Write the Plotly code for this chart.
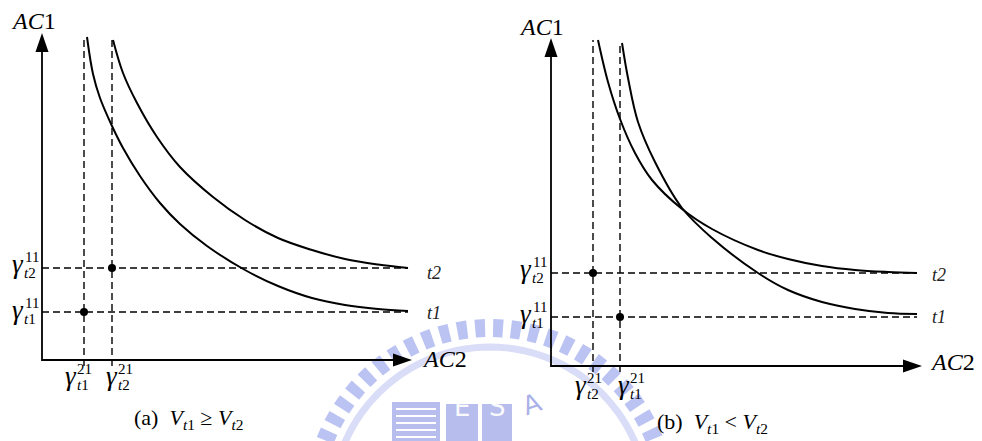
import math
import plotly.graph_objects as go

FIG_W, FIG_H = 982, 441
SERIF = "Liberation Serif, Times New Roman, serif"
INK = "#000000"

# ---------------- panel (a): V_t1 >= V_t2 ----------------
a_gamma21 = {"t1": 42, "t2": 70}      # thresholds on AC2
a_gamma11 = {"t1": 48, "t2": 92}      # thresholds on AC1
a_t1_x = [45, 51, 58, 70, 81, 98, 118, 138, 165, 203, 236, 270, 303, 336, 366]
a_t1_y = [323, 286, 262, 234, 212, 184, 157, 136, 114, 90, 74, 62, 55, 51, 49]
a_t2_x = [71, 81, 95, 115, 138, 171, 203, 236, 270, 303, 336, 366]
a_t2_y = [320, 287, 257, 223, 193, 163, 140, 122, 110, 101, 95.5, 92]

# ---------------- panel (b): V_t1 < V_t2 ----------------
b_gamma21 = {"t1": 69, "t2": 42}
b_gamma11 = {"t1": 49, "t2": 93}
b_t1_x = [71, 77, 87, 104, 131, 161, 207, 237, 271, 304, 337, 366]
b_t1_y = [323, 288, 244, 204, 158, 128, 93, 76, 64, 57, 53, 52]
b_t2_x = [47, 57, 69, 84, 101, 131, 161, 207, 237, 271, 304, 337, 366]
b_t2_y = [326, 284, 247, 213, 186, 157, 137, 116, 107, 100, 96, 94, 93]

panels = {
    "a": dict(xa="x", ya="y", g21=a_gamma21, g11=a_gamma11,
              curves=[(a_t1_x, a_t1_y), (a_t2_x, a_t2_y)],
              vtop={"t1": 323, "t2": 322}, hend=366, xtip=370, ytip=327,
              xr=[-42, 449], yr=[-81, 360], dom=[0, 0.5]),
    "b": dict(xa="x2", ya="y2", g21=b_gamma21, g11=b_gamma11,
              curves=[(b_t1_x, b_t1_y), (b_t2_x, b_t2_y)],
              vtop={"t1": 324, "t2": 326}, hend=366, xtip=371, ytip=328,
              xr=[-60, 431], yr=[-75, 366], dom=[0.5, 1]),
}

HEAD_LEN, HEAD_HW = 19, 6.5
DASH = dict(color=INK, width=1.4, dash="7px,4px")

fig = go.Figure()

for key, p in panels.items():
    ax = dict(xaxis=p["xa"], yaxis=p["ya"], showlegend=False, hoverinfo="skip")
    # dashed guide lines
    for t in ("t1", "t2"):
        g = p["g21"][t]
        fig.add_trace(go.Scatter(x=[g, g], y=[-6, p["vtop"][t]], mode="lines",
                                 line=DASH, **ax))
        h = p["g11"][t]
        fig.add_trace(go.Scatter(x=[0, p["hend"]], y=[h, h], mode="lines",
                                 line=DASH, **ax))
    # indifference curves
    for cx, cy in p["curves"]:
        fig.add_trace(go.Scatter(x=cx, y=cy, mode="lines", line_shape="spline",
                                 line=dict(color=INK, width=2), **ax))
    # threshold points
    fig.add_trace(go.Scatter(x=[p["g21"]["t1"], p["g21"]["t2"]],
                             y=[p["g11"]["t1"], p["g11"]["t2"]],
                             mode="markers", marker=dict(color=INK, size=8), **ax))
    # axes with arrowheads
    xb, yb = p["xtip"] - HEAD_LEN, p["ytip"] - HEAD_LEN
    fig.add_trace(go.Scatter(x=[xb, 0, 0], y=[0, 0, yb], mode="lines",
                             line=dict(color=INK, width=1.8), **ax))
    fig.add_trace(go.Scatter(x=[p["xtip"], xb, xb, p["xtip"]],
                             y=[0, HEAD_HW, -HEAD_HW, 0], mode="lines",
                             fill="toself", fillcolor=INK, line=dict(width=0), **ax))
    fig.add_trace(go.Scatter(x=[0, HEAD_HW, -HEAD_HW, 0],
                             y=[p["ytip"], yb, yb, p["ytip"]], mode="lines",
                             fill="toself", fillcolor=INK, line=dict(width=0), **ax))

annotations = []


def text(panel, x, y, s, size, xanchor="center", yanchor="middle",
         xshift=0, yshift=0, color=INK, family=SERIF):
    p = panels[panel]
    annotations.append(dict(xref=p["xa"], yref=p["ya"], x=x, y=y, text=s,
                            showarrow=False, xanchor=xanchor, yanchor=yanchor,
                            xshift=xshift, yshift=yshift,
                            font=dict(family=family, size=size, color=color)))


def gamma(panel, x, y, sup, t):
    """gamma with stacked superscript and subscript; (x, y) is the glyph centre"""
    text(panel, x, y, "<i>γ</i>", 27, yshift=6)
    text(panel, x, y, sup, 15, xshift=14, yshift=13)
    text(panel, x, y, "<i>t</i>" + t[-1], 15, xshift=12, yshift=-3)


for key in ("a", "b"):
    text(key, -9 if key == "a" else -10, 339, "<i>AC</i>1", 24)
    text(key, 378 if key == "a" else 377, 1 if key == "a" else 4.5,
         "<i>AC</i>2", 24, xanchor="left")

# panel (a) labels
gamma("a", -24.5, 90, "11", "t2")
gamma("a", -24.5, 44, "11", "t1")
gamma("a", 28.5, -22, "21", "t1")
gamma("a", 69.5, -22, "21", "t2")
text("a", 383, 87, "<i>t2</i>", 18, xanchor="left", color="#222")
text("a", 383, 47, "<i>t1</i>", 18, xanchor="left", color="#222")
text("a", 146, -59,
     "(a)\u00a0 <i>V</i><sub><i>t</i>1</sub> ≥ <i>V</i><sub><i>t</i>2</sub>", 22)

# panel (b) labels
gamma("b", -25.5, 91, "11", "t2")
gamma("b", -25.5, 46, "11", "t1")
gamma("b", 29.5, -25, "21", "t2")
gamma("b", 72.5, -25, "21", "t1")
text("b", 379, 91, "<i>t2</i>", 18, xanchor="left", color="#222")
text("b", 379, 49, "<i>t1</i>", 18, xanchor="left", color="#222")
text("b", 161, -57,
     "(b)\u00a0 <i>V</i><sub><i>t</i>1</sub> < <i>V</i><sub><i>t</i>2</sub>", 22)

# faint emblem behind the figures
shapes = []
EMB_CX, EMB_CY = 490, 505
TOOTH_IN, TOOTH_OUT = 168, 186


def to_paper(px, py):
    return px / FIG_W, 1 - py / FIG_H


for k in range(28):
    th = math.radians(12 + k * 5.8)
    hw = math.radians(1.6)
    pts = []
    for r, a in ((TOOTH_IN, th - hw), (TOOTH_OUT, th - hw),
                 (TOOTH_OUT, th + hw), (TOOTH_IN, th + hw)):
        pts.append(to_paper(EMB_CX + r * math.cos(a), EMB_CY - r * math.sin(a)))
    path = "M " + " L ".join(f"{u:.4f},{v:.4f}" for u, v in pts) + " Z"
    shapes.append(dict(type="path", path=path, xref="paper", yref="paper",
                       fillcolor="rgba(120,135,230,0.5)", line_width=0,
                       layer="below"))

ring = []
for k in range(61):
    a = math.radians(k * 3)
    ring.append(to_paper(EMB_CX + 158 * math.cos(a), EMB_CY - 158 * math.sin(a)))
shapes.append(dict(type="path", xref="paper", yref="paper", layer="below",
                   path="M " + " L ".join(f"{u:.4f},{v:.4f}" for u, v in ring),
                   line=dict(color="rgba(160,170,235,0.4)", width=7)))

for (x0, y0, x1, y1) in [(392, 402, 440, 441), (446, 404, 478, 441),
                         (482, 404, 512, 441)]:
    u0, v0 = to_paper(x0, y0)
    u1, v1 = to_paper(x1, y1)
    shapes.append(dict(type="rect", xref="paper", yref="paper", x0=u0, x1=u1,
                       y0=v1, y1=v0, layer="below", line_width=0,
                       fillcolor="rgba(95,110,215,0.45)"))
for i in range(5):
    u0, v0 = to_paper(396, 408 + i * 7)
    u1, v1 = to_paper(436, 410 + i * 7)
    shapes.append(dict(type="rect", xref="paper", yref="paper", x0=u0, x1=u1,
                       y0=v1, y1=v0, layer="below", line_width=0,
                       fillcolor="white"))
for lbl, px in (("E", 462), ("S", 497), ("A", 532)):
    u, v = to_paper(px, 424)
    annotations.append(dict(xref="paper", yref="paper", x=u, y=v, text=lbl,
                            showarrow=False, textangle=-20 if lbl == "A" else 0,
                            font=dict(family="DejaVu Sans", size=26,
                                      color="rgba(255,255,255,0.95)" if lbl != "A"
                                      else "rgba(95,110,215,0.55)")))

axis_common = dict(visible=False, fixedrange=True, showgrid=False, zeroline=False)
fig.update_layout(
    width=FIG_W, height=FIG_H, autosize=False,
    margin=dict(l=0, r=0, t=0, b=0, pad=0),
    paper_bgcolor="white", plot_bgcolor="rgba(0,0,0,0)",
    xaxis=dict(domain=panels["a"]["dom"], range=panels["a"]["xr"], **axis_common),
    yaxis=dict(domain=[0, 1], range=panels["a"]["yr"], **axis_common),
    xaxis2=dict(domain=panels["b"]["dom"], range=panels["b"]["xr"], **axis_common),
    yaxis2=dict(domain=[0, 1], range=panels["b"]["yr"], anchor="x2", **axis_common),
    annotations=annotations, shapes=shapes, showlegend=False,
)

fig.write_html("out.html")
